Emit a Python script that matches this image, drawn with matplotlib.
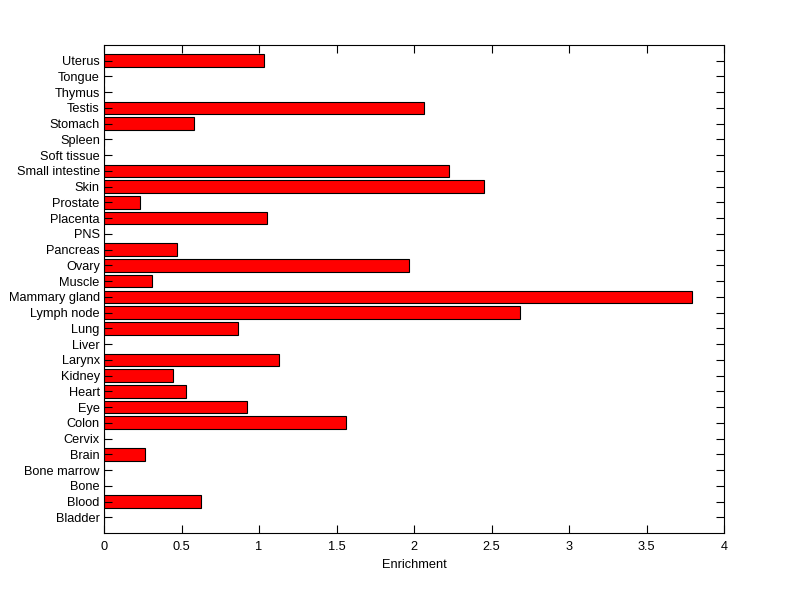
import matplotlib
matplotlib.use("Agg")
import matplotlib.pyplot as plt

categories = ["Bladder", "Blood", "Bone", "Bone marrow", "Brain", "Cervix", "Colon", "Eye",
              "Heart", "Kidney", "Larynx", "Liver", "Lung", "Lymph node", "Mammary gland",
              "Muscle", "Ovary", "Pancreas", "PNS", "Placenta", "Prostate", "Skin",
              "Small intestine", "Soft tissue", "Spleen", "Stomach", "Testis", "Thymus",
              "Tongue", "Uterus"]
values = [0, 0.626, 0, 0, 0.266, 0, 1.562, 0.924,
          0.532, 0.446, 1.132, 0, 0.866, 2.687, 3.795,
          0.31, 1.965, 0.472, 0, 1.053, 0.233, 2.453,
          2.223, 0, 0, 0.578, 2.062, 0, 0, 1.033]
xticks = [0, 0.5, 1, 1.5, 2, 2.5, 3, 3.5, 4]
xticklabels = ["0", "0.5", "1", "1.5", "2", "2.5", "3", "3.5", "4"]

plt.rcParams['font.family'] = ['Liberation Sans', 'DejaVu Sans']
fig = plt.figure(figsize=(8, 5.99), dpi=100)
ax = fig.add_axes([0.13, 0.1102, 0.775, 0.8147])
ypos = list(range(1, len(categories) + 1))
ax.barh(ypos, values, height=0.8, color='#ff0000', edgecolor='black', linewidth=0.8)
ax.set_ylim(0, len(categories) + 1)
ax.set_xlim(0, 4)
ax.set_yticks(ypos)
ax.set_yticklabels(categories, fontsize=9.2)
ax.set_xticks(xticks)
ax.set_xticklabels(xticklabels, fontsize=9.2)
ax.set_xlabel("Enrichment", fontsize=9.2, labelpad=4)
ax.tick_params(axis='y', direction='in', length=6, width=0.8, right=True, pad=3)
ax.tick_params(axis='x', direction='in', length=6, width=0.8, top=True, pad=6)
for s in ax.spines.values():
    s.set_linewidth(0.8)
fig.savefig("out.png", dpi=100)
